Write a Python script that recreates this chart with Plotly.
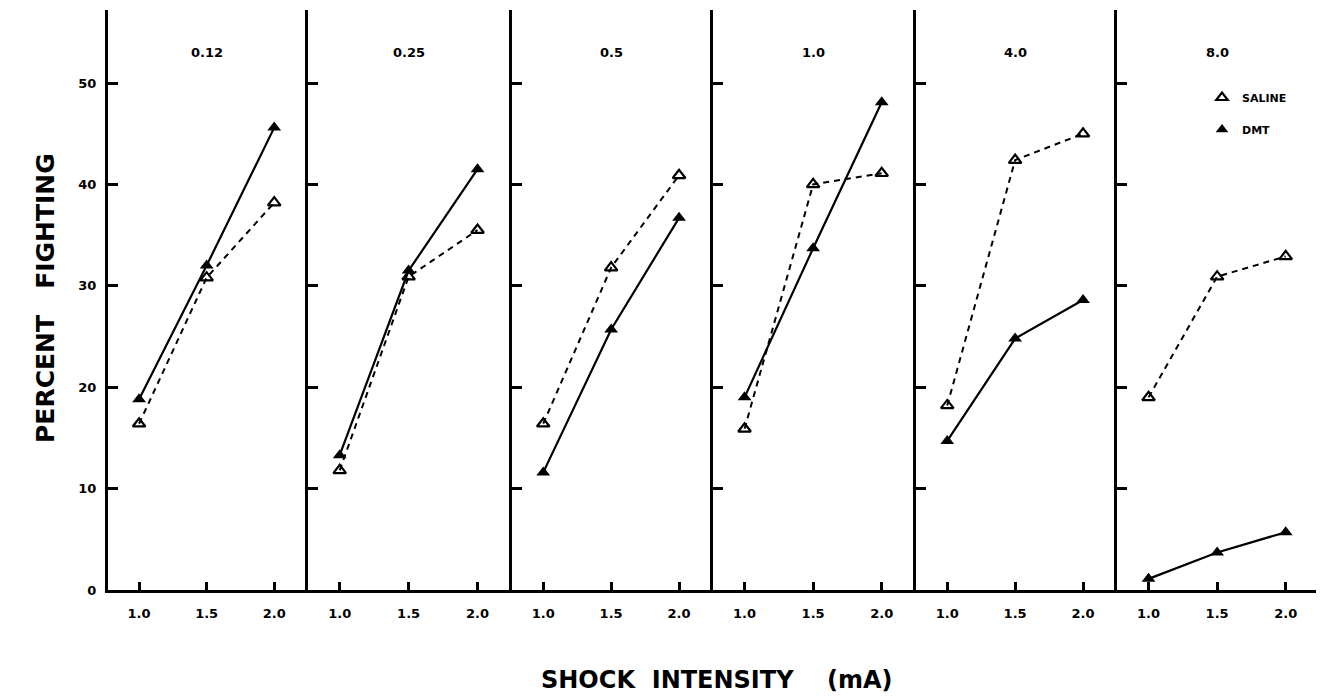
import plotly.graph_objects as go

# ---- data ----
doses = ["0.12", "0.25", "0.5", "1.0", "4.0", "8.0"]
shock = [1.0, 1.5, 2.0]
shock_labels = ["1.0", "1.5", "2.0"]
saline = [
    [16.4, 30.8, 38.2],
    [11.8, 30.9, 35.5],
    [16.4, 31.8, 40.9],
    [15.9, 40.0, 41.1],
    [18.2, 42.4, 45.0],
    [19.0, 30.9, 32.9],
]
dmt = [
    [18.8, 32.0, 45.6],
    [13.3, 31.5, 41.5],
    [11.6, 25.7, 36.7],
    [19.0, 33.7, 48.1],
    [14.7, 24.8, 28.6],
    [1.1, 3.7, 5.7],
]
y_ticks = [0, 10, 20, 30, 40, 50]

# page body has an 8px margin -> compensate
OX, OY = 8, 8
W, H = 1324 - OX, 700 - OY
panel_px = [108, 308, 512, 713, 916, 1117, 1320]
y_bottom_px, y_top_px = 590, 10


def fx(px):
    return (px - OX) / W


def fy(py):
    return 1 - (py - OY) / H


FONT = "DejaVu Sans"
fig = go.Figure()

for i in range(6):
    xa = "x" if i == 0 else f"x{i+1}"
    ya = "y" if i == 0 else f"y{i+1}"
    fig.add_trace(go.Scatter(
        x=shock, y=saline[i], xaxis=xa, yaxis=ya, mode="lines+markers",
        line=dict(color="black", width=2, dash="6px,5px"),
        marker=dict(symbol="triangle-up-open", size=11, color="black",
                    line=dict(width=2.2, color="black")),
        showlegend=False, cliponaxis=False))
    fig.add_trace(go.Scatter(
        x=shock, y=dmt[i], xaxis=xa, yaxis=ya, mode="lines+markers",
        line=dict(color="black", width=2.2),
        marker=dict(symbol="triangle-up", size=12, color="black"),
        showlegend=False, cliponaxis=False))

# legend entries (marker only)
fig.add_trace(go.Scatter(x=[None], y=[None], mode="markers", name="SALINE",
                         legendgroup="a",
                         marker=dict(symbol="triangle-up-open", size=10, color="black",
                                     line=dict(width=2.2, color="black"))))
fig.add_trace(go.Scatter(x=[None], y=[None], mode="markers", name="DMT",
                         legendgroup="b",
                         marker=dict(symbol="triangle-up", size=11, color="black")))

layout = dict(
    width=W, height=H, margin=dict(l=0, r=0, t=0, b=0, autoexpand=False),
    paper_bgcolor="white", plot_bgcolor="white",
    font=dict(family=FONT, color="black"),
    showlegend=True,
    legend=dict(x=fx(1202), y=fy(83), xanchor="left", yanchor="top",
                font=dict(size=11, family=FONT, weight="bold"),
                tracegroupgap=13, bgcolor="rgba(0,0,0,0)", itemwidth=30),
)

yd = [fy(y_bottom_px), fy(y_top_px)]
for i in range(6):
    sx = "" if i == 0 else str(i + 1)
    layout[f"xaxis{sx}"] = dict(
        domain=[fx(panel_px[i]), min(1, fx(panel_px[i + 1]))],
        range=[0.77, 2.25], anchor=f"y{sx}", automargin=False,
        showline=True, linewidth=3, linecolor="black",
        ticks="inside", ticklen=8, tickwidth=2.5, tickcolor="black",
        tickvals=shock, ticktext=shock_labels,
        tickfont=dict(size=13, family=FONT, weight="bold"),
        ticklabelstandoff=9,
        showgrid=False, zeroline=False, fixedrange=True)
    layout[f"yaxis{sx}"] = dict(
        domain=yd, range=[0, 57.2], anchor=f"x{sx}", automargin=False,
        showline=True, linewidth=3, linecolor="black",
        ticks="inside", ticklen=10, tickwidth=2.5, tickcolor="black",
        tickvals=y_ticks, showticklabels=(i == 0),
        tickfont=dict(size=13, family=FONT, weight="bold"),
        ticklabelstandoff=6,
        showgrid=False, zeroline=False, fixedrange=True)

fig.update_layout(**layout)

for i, d in enumerate(doses):
    sx = "" if i == 0 else str(i + 1)
    fig.add_annotation(text=d, x=1.5, xref=f"x{sx}", y=fy(43), yref="paper",
                       showarrow=False, font=dict(size=13, family=FONT, weight="bold"))

fig.add_annotation(text="PERCENT   FIGHTING", x=fx(46), y=fy(298),
                   xref="paper", yref="paper", textangle=-90, showarrow=False,
                   xanchor="center", yanchor="middle",
                   font=dict(size=25, family=FONT, weight="bold"))
fig.add_annotation(text="SHOCK  INTENSITY    (mA)", x=fx(716), y=fy(680),
                   xref="paper", yref="paper", showarrow=False,
                   xanchor="center", yanchor="middle",
                   font=dict(size=24, family=FONT, weight="bold"))

fig.write_html("out.html")
